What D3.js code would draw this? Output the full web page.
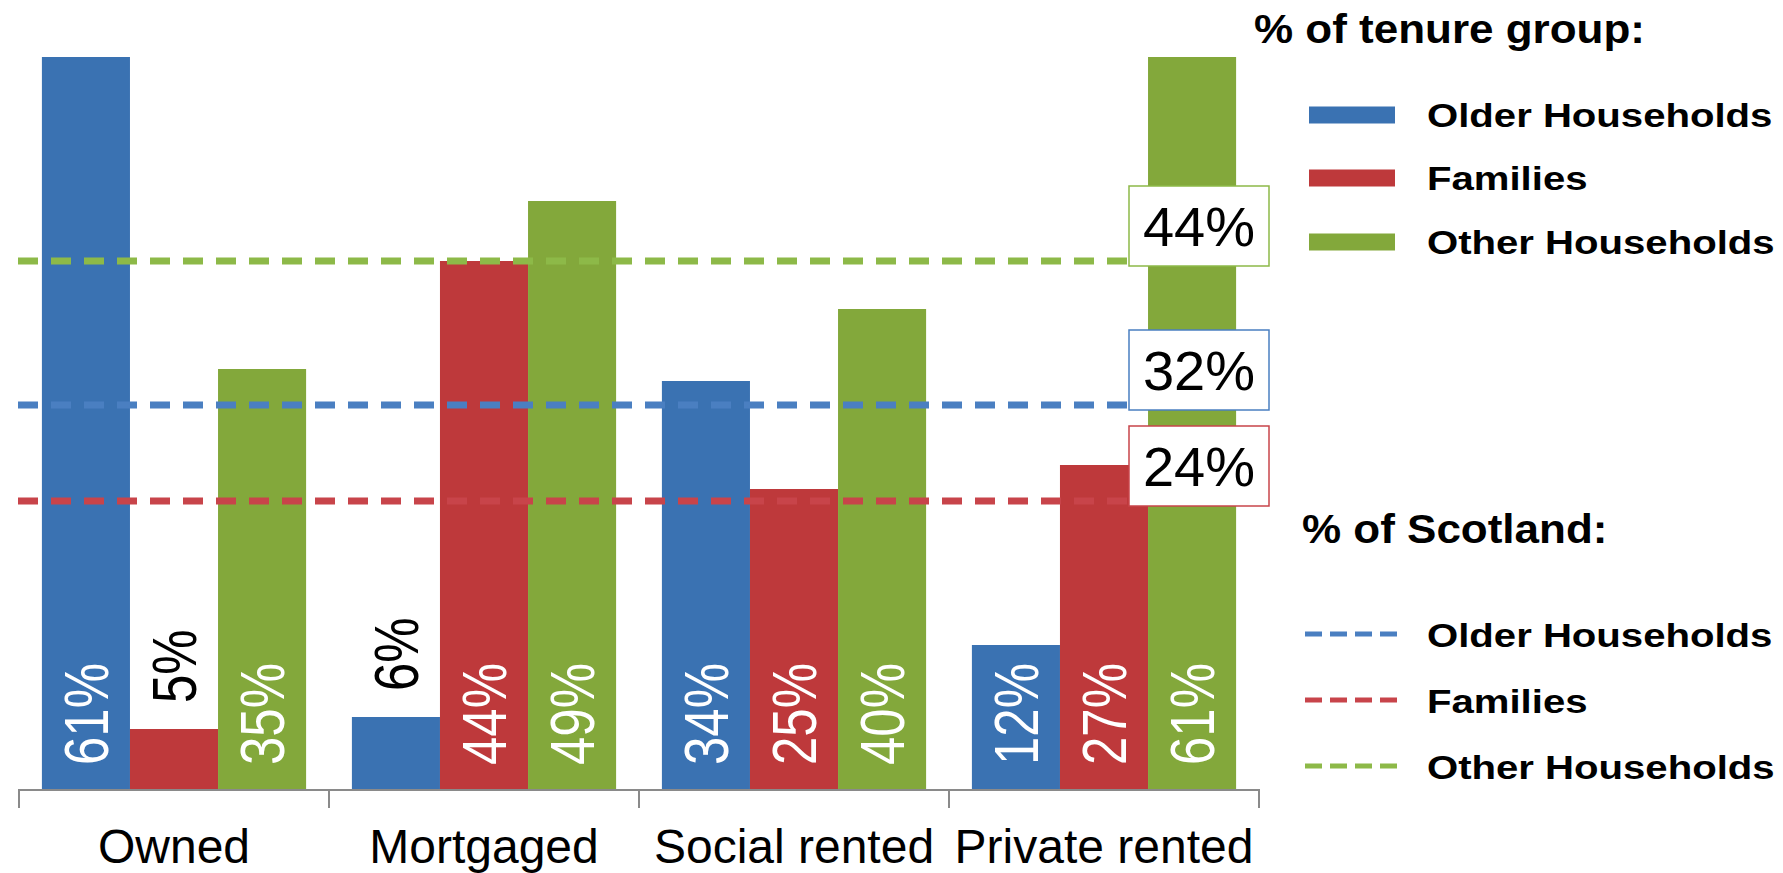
<!DOCTYPE html>
<html><head><meta charset="utf-8">
<script src="https://cdn.jsdelivr.net/npm/d3@7"></script>
<style>body{margin:0;background:#fff} svg{display:block} text{font-family:"Liberation Sans",Arial,sans-serif}</style>
</head><body><svg id="c" width="1783" height="873"></svg>
<script>
// ---- data ----
const categories = ["Owned", "Mortgaged", "Social rented", "Private rented"];
const seriesNames = ["Older Households", "Families", "Other Households"];
const olderValues = [61, 6, 34, 12];
const familiesValues = [5, 44, 25, 27];
const otherValues = [35, 49, 40, 61];
const scotlandValues = [32, 24, 44]; // Older, Families, Other
const legendTitles = ["% of tenure group:", "% of Scotland:"];

// ---- styles ----
const barColors = ["#3A72B2", "#BE393B", "#83A83B"];
const dashColors = ["#4A7FC1", "#C8444A", "#8DB948"];

const svg = d3.select("#c");
const seriesValues = [olderValues, familiesValues, otherValues];

const x0 = d3.scaleBand().domain(categories).range([19, 1259]).paddingInner(0).paddingOuter(0);
const x1 = d3.scaleBand().domain(seriesNames).range([0, x0.bandwidth()]).paddingInner(0).paddingOuter(0.26);
const y = d3.scaleLinear().domain([0, 61]).range([789, 57]);

// bars
const groups = svg.append("g").selectAll("g").data(categories).join("g")
  .attr("transform", d => `translate(${x0(d)},0)`);
groups.selectAll("rect").data((c, ci) => seriesNames.map((s, si) => ({s, si, v: seriesValues[si][ci]})))
  .join("rect")
  .attr("x", d => x1(d.s))
  .attr("width", x1.bandwidth())
  .attr("y", d => y(d.v))
  .attr("height", d => y(0) - y(d.v))
  .attr("fill", d => barColors[d.si]);

// bar labels (rotated)
groups.selectAll("text").data((c, ci) => seriesNames.map((s, si) => ({s, si, v: seriesValues[si][ci]})))
  .join("text")
  .attr("transform", d => {
    const cx = x1(d.s) + x1.bandwidth() / 2;
    const yy = d.v >= 10 ? y(0) - 24 : y(d.v) - 26;
    return `translate(${cx},${yy}) rotate(-90) scale(1,1.22)`;
  })
  .attr("dy", "0.36em")
  .attr("text-anchor", "start")
  .attr("font-size", 51)
  .attr("fill", d => d.v >= 10 ? "#ffffff" : "#000000")
  .text(d => d.v + "%");

// axis
const axisG = svg.append("g").attr("transform", `translate(0,${y(0)})`);
axisG.append("line").attr("x1", x0.range()[0]).attr("x2", x0.range()[1])
  .attr("y1", 1).attr("y2", 1).attr("stroke", "#8a8a8a").attr("stroke-width", 2);
const boundaries = categories.map(c => x0(c)).concat([x0.range()[1]]);
axisG.selectAll("line.tick").data(boundaries).join("line").attr("class", "tick")
  .attr("x1", d => d).attr("x2", d => d).attr("y1", 0).attr("y2", 19)
  .attr("stroke", "#8a8a8a").attr("stroke-width", 2);
const labAxis = svg.append("g").attr("transform", `translate(0,${y(0)})`)
  .call(d3.axisBottom(x0).tickSize(0));
labAxis.select(".domain").remove();
labAxis.selectAll("text").attr("y", 74).attr("dy", 0)
  .attr("font-size", 48).attr("fill", "#000")
  .style("font-family", '"Liberation Sans",Arial,sans-serif');

// Scotland dashed lines + boxes
const boxX = 1129, boxW = 140, boxH = 80;
scotlandValues.forEach((v, i) => {
  svg.append("line").attr("x1", 18).attr("x2", boxX).attr("y1", y(v)).attr("y2", y(v))
    .attr("stroke", dashColors[i]).attr("stroke-width", 7).attr("stroke-dasharray", "20 13");
});
scotlandValues.forEach((v, i) => {
  const top = y(v) - 75;
  svg.append("rect").attr("x", boxX).attr("y", top).attr("width", boxW).attr("height", boxH)
    .attr("fill", "#fff").attr("stroke", dashColors[i]).attr("stroke-width", 1.5);
  svg.append("text").attr("x", boxX + boxW / 2).attr("y", top + 60)
    .attr("text-anchor", "middle").attr("font-size", 56).attr("fill", "#000").text(v + "%");
});

// legend helpers
function legendText(x, yy, size, sx, txt) {
  svg.append("text").attr("transform", `translate(${x},${yy}) scale(${sx},1)`)
    .attr("font-size", size).attr("font-weight", "bold").attr("fill", "#000").text(txt);
}

// legend: bars
legendText(1254, 43, 40, 1.1, legendTitles[0]);
const rowsA = [115, 178, 242];
seriesNames.forEach((s, i) => {
  svg.append("rect").attr("x", 1309).attr("y", rowsA[i] - 8.5).attr("width", 86).attr("height", 17)
    .attr("fill", barColors[i]);
  legendText(1427, rowsA[i] + 12, 34, 1.18, s);
});

// legend: dashed
legendText(1302, 543, 40, 1.1, legendTitles[1]);
const rowsB = [634, 700, 766];
seriesNames.forEach((s, i) => {
  svg.append("line").attr("x1", 1305).attr("x2", 1398).attr("y1", rowsB[i]).attr("y2", rowsB[i])
    .attr("stroke", dashColors[i]).attr("stroke-width", 5).attr("stroke-dasharray", "17 8");
  legendText(1427, rowsB[i] + 13, 34, 1.18, s);
});
</script>
</body></html>
